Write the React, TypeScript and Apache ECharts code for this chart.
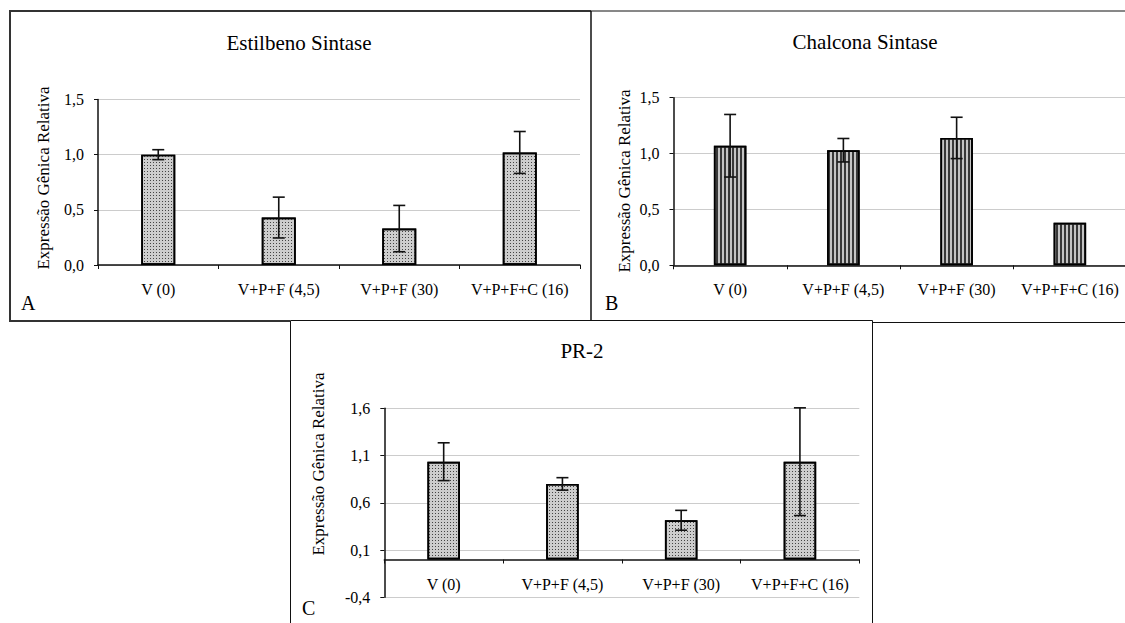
import React, { useEffect, useRef } from "react";
import * as echarts from "echarts";

// Treatments shown on every panel
const categories = ["V (0)", "V+P+F (4,5)", "V+P+F (30)", "V+P+F+C (16)"];

// A – Estilbeno Sintase
const estilbenoMean = [1.0, 0.43, 0.33, 1.02];
const estilbenoErr = [0.045, 0.185, 0.21, 0.19];

// B – Chalcona Sintase
const chalconaMean = [1.07, 1.03, 1.14, 0.38];
const chalconaErr = [0.28, 0.105, 0.185, 0];

// C – PR-2
const pr2Mean = [1.035, 0.8, 0.415, 1.035];
const pr2Err = [0.2, 0.066, 0.105, 0.57];

// Value axis settings [min, max, step]
const axisA = [0, 1.5, 0.5];
const axisB = [0, 1.5, 0.5];
const axisC = [-0.4, 1.6, 0.5];

const titles = ["Estilbeno Sintase", "Chalcona Sintase", "PR-2"];
const panelLetters = ["A", "B", "C"];
const yName = "Expressão Gênica Relativa";

const SERIF = "Liberation Serif";

const fmt = (v: number) => v.toFixed(1).replace(".", ",");

function xAxisFor(gridIndex: number, margin: number) {
  return {
    type: "category",
    gridIndex,
    data: categories,
    axisLine: { show: true, onZero: true, lineStyle: { color: "#111", width: 1.5 } },
    axisTick: { show: true, length: 4, lineStyle: { color: "#111", width: 1 } },
    axisLabel: {
      interval: 0,
      margin,
      color: "#000",
      fontFamily: SERIF,
      fontSize: 16,
      lineHeight: 16,
    },
    splitLine: { show: false },
  };
}

function yAxisFor(gridIndex: number, range: number[]) {
  return {
    type: "value",
    gridIndex,
    min: range[0],
    max: range[1],
    interval: range[2],
    axisLine: { show: true, lineStyle: { color: "#111", width: 1.5 } },
    axisTick: { show: true, length: 4, lineStyle: { color: "#111", width: 1 } },
    axisLabel: {
      margin: 14,
      color: "#000",
      fontFamily: SERIF,
      fontSize: 16,
      formatter: (v: number) => fmt(v),
    },
    splitLine: { show: true, lineStyle: { color: "#cccccc", width: 1 } },
  };
}

const dotted = {
  color: "#cdcdcd",
  borderColor: "#000",
  borderWidth: 1.7,
  decal: {
    symbol: "rect",
    symbolSize: 1,
    color: "#444444",
    dashArrayX: [1, 2],
    dashArrayY: [1, 2],
    rotation: 0,
  },
};

const striped = {
  color: "#c4c4c4",
  borderColor: "#000",
  borderWidth: 1.7,
  decal: {
    symbol: "rect",
    symbolSize: 1,
    color: "#383838",
    dashArrayX: [1.5, 1.8],
    dashArrayY: [4, 0],
    rotation: 0,
  },
};

function barSeries(idx: number, values: number[], style: any, width: number) {
  return {
    type: "bar",
    xAxisIndex: idx,
    yAxisIndex: idx,
    data: values,
    barWidth: width,
    itemStyle: style,
    silent: true,
  };
}

function errorSeries(idx: number, values: number[], errs: number[]) {
  return {
    type: "custom",
    xAxisIndex: idx,
    yAxisIndex: idx,
    silent: true,
    z: 5,
    encode: { x: 0, y: 1 },
    data: values.map((v, i) => [i, v, errs[i]]),
    renderItem: (_params: any, api: any) => {
      const i = api.value(0);
      const v = api.value(1);
      const e = api.value(2);
      if (!e) return null;
      const hi = api.coord([i, v + e]);
      const lo = api.coord([i, v - e]);
      const half = 6;
      const st = { stroke: "#111", lineWidth: 1.6 };
      return {
        type: "group",
        children: [
          { type: "line", shape: { x1: hi[0], y1: hi[1], x2: lo[0], y2: lo[1] }, style: st },
          { type: "line", shape: { x1: hi[0] - half, y1: hi[1], x2: hi[0] + half, y2: hi[1] }, style: st },
          { type: "line", shape: { x1: lo[0] - half, y1: lo[1], x2: lo[0] + half, y2: lo[1] }, style: st },
        ],
      };
    },
  };
}

function label(text: string, x: number, y: number, size: number, rotate = false, align = "center") {
  return {
    type: "text",
    x,
    y,
    rotation: rotate ? Math.PI / 2 : 0,
    silent: true,
    style: {
      text,
      x: 0,
      y: 0,
      fill: "#000",
      font: `${size}px ${SERIF}`,
      align,
      verticalAlign: "middle",
      textAlign: align,
      textVerticalAlign: "middle",
    },
  };
}

function frame(points: number[][], width: number, color = "#222") {
  return {
    type: "polyline",
    silent: true,
    shape: { points },
    style: { stroke: color, lineWidth: width, fill: null },
  };
}

export default function App() {
  const ref = useRef<HTMLDivElement>(null);

  useEffect(() => {
    if (!ref.current) return;
    const chart = echarts.init(ref.current, null, { renderer: "svg" });
    chart.setOption({
      animation: false,
      backgroundColor: "#fff",
      grid: [
        { left: 98, top: 99.5, width: 482, height: 165.5, outerBoundsMode: "none" },
        { left: 673.5, top: 97.7, width: 453, height: 167.6, outerBoundsMode: "none" },
        { left: 384.3, top: 408.3, width: 475, height: 189, outerBoundsMode: "none" },
      ],
      xAxis: [xAxisFor(0, 16), xAxisFor(1, 16), xAxisFor(2, -21)],
      yAxis: [yAxisFor(0, axisA), yAxisFor(1, axisB), yAxisFor(2, axisC)],
      series: [
        barSeries(0, estilbenoMean, dotted, 34),
        errorSeries(0, estilbenoMean, estilbenoErr),
        barSeries(1, chalconaMean, striped, 32.5),
        errorSeries(1, chalconaMean, chalconaErr),
        barSeries(2, pr2Mean, dotted, 32.5),
        errorSeries(2, pr2Mean, pr2Err),
      ],
      graphic: [
        // panel frames
        frame([[290, 321], [10, 321], [10, 11], [591, 11]], 2, "#333"),
        frame([[591, 11], [591, 321]], 1.5, "#111"),
        frame([[591, 11], [1130, 11]], 1, "#111"),
        frame([[873, 322.5], [1130, 322.5]], 1, "#111"),
        frame([[290.5, 640], [290.5, 320.5], [872.5, 320.5], [872.5, 640]], 1, "#111"),
        // titles
        label(titles[0], 299, 43, 21),
        label(titles[1], 865, 42, 21),
        label(titles[2], 582, 351, 21),
        // panel letters
        label(panelLetters[0], 21, 303, 20, false, "left"),
        label(panelLetters[1], 605, 303, 20, false, "left"),
        label(panelLetters[2], 302, 608, 20, false, "left"),
        // value axis names
        label(yName, 43, 178, 17, true),
        label(yName, 624, 181, 17, true),
        label(yName, 318, 464, 17, true),
      ],
    });
    return () => chart.dispose();
  }, []);

  return (
    <div
      ref={ref}
      style={{ position: "absolute", left: 0, top: 0, width: 1125, height: 623, background: "#fff" }}
    />
  );
}
